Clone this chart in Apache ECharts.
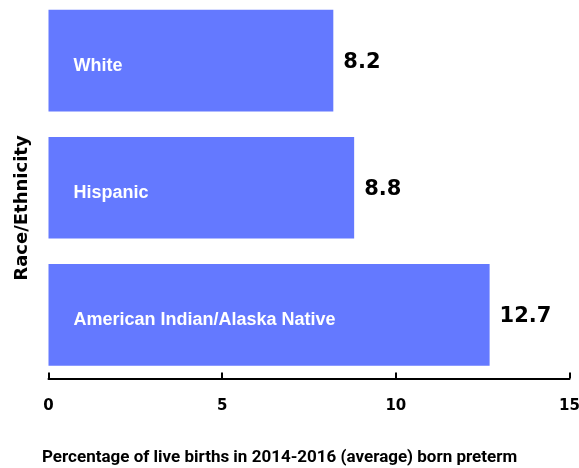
<!DOCTYPE html>
<html><head><meta charset="utf-8">
<script src="https://cdn.jsdelivr.net/npm/echarts@6/dist/echarts.min.js"></script>
<style>html,body{margin:0;padding:0;background:#fff;overflow:hidden}#c{width:579px;height:468px}</style>
</head><body><div id="c"></div>
<script>
const categories = ["White", "Hispanic", "American Indian/Alaska Native"];
const values = [8.2, 8.8, 12.7];
const xTicks = [0, 5, 10, 15];
const xTitle = "Percentage of live births in 2014-2016 (average) born preterm";
const yTitle = "Race/Ethnicity";

const chart = echarts.init(document.getElementById('c'));
chart.setOption({
  animation: false,
  grid: {left: 48.5, right: 9.5, top: -3, height: 381.5, containLabel: false, outerBoundsMode: 'none'},
  xAxis: {
    type: 'value', min: 0, max: 15, interval: 5,
    axisLine: {show: true, lineStyle: {color: '#000', width: 2}},
    axisTick: {show: true, inside: true, length: 6, lineStyle: {color: '#000', width: 2}},
    splitLine: {show: false},
    axisLabel: {margin: 20, color: '#000', fontFamily: 'DejaVu Sans', fontWeight: 'bold', fontSize: 15,
      formatter: v => xTicks.includes(v) ? String(v) : ''}
  },
  yAxis: {
    type: 'category', data: categories, inverse: true,
    axisLine: {show: false}, axisTick: {show: false},
    axisLabel: {inside: true, margin: 25, align: 'left',
      formatter: '{a|{value}}',
      rich: {a: {color: '#fff', fontFamily: 'Liberation Sans', fontWeight: 'bold', fontSize: 18, padding: [10, 0, 0, 0]}}},
    z: 10
  },
  series: [{
    type: 'bar', data: values, barWidth: '80%',
    itemStyle: {color: '#6479FF'},
    label: {show: true, position: 'right', distance: 10, offset: [0, 2], color: '#000',
      fontFamily: 'DejaVu Sans', fontWeight: 'bold', fontSize: 21, formatter: p => p.value.toFixed(1)}
  }],
  graphic: [
    {type: 'text', left: 42, top: 449, style: {text: xTitle, fill: '#000', font: 'bold 17px Roboto'}},
    {type: 'text', x: 13, y: 208, rotation: Math.PI/2, style: {text: yTitle, fill: '#000', font: 'bold 18px "DejaVu Sans"', align: 'center', verticalAlign: 'top'}}
  ]
});
</script></body></html>
